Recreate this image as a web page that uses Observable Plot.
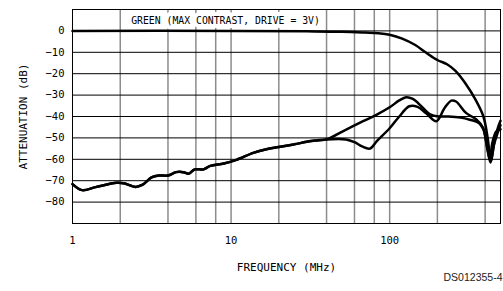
<!DOCTYPE html>
<html><head><meta charset="utf-8">
<script src="https://cdn.jsdelivr.net/npm/d3@7"></script>
<script src="https://cdn.jsdelivr.net/npm/@observablehq/plot@0.6"></script>
<style>body{margin:0;background:#fff} svg{display:block}</style>
</head><body><div id="chart"></div>
<script>
// Top (pass-band) curve
const topFreq = [1, 10, 30, 50, 70, 85, 100, 120, 145, 170, 200, 230, 260, 300, 350, 390, 415, 435, 455, 478, 500];
const topDb   = [0, 0, -0.2, -0.4, -0.8, -1.1, -1.8, -3.6, -6.6, -10.2, -13.6, -15.6, -18.7, -24.5, -32.5, -40, -50, -61, -53, -46, -42];

// Lower curve A
const aFreq = [1, 1.15, 1.4, 1.9, 2.1, 2.5, 2.75, 3.15, 3.5, 4, 4.5, 5, 5.4, 5.9, 6.7, 7.4, 9, 10.8, 13.8, 16.7, 20, 25, 32, 40, 51, 68, 83, 100, 115, 127, 140, 160, 180, 205, 235, 280, 320, 365, 390, 410, 428, 445, 470, 500];
const aDb   = [-71.6, -74.4, -73, -71, -71.2, -72.9, -72, -68.5, -67.6, -67.6, -66, -66, -66.7, -64.7, -64.7, -63.1, -62, -60.3, -57, -55.3, -54.3, -53, -51.5, -50.7, -46.8, -42.2, -39.1, -35.7, -32.5, -31, -31.8, -35.5, -39, -40, -40, -40.5, -41.5, -43, -46, -54, -60, -52, -47, -46];

// Lower curve B
const bFreq = [1, 1.15, 1.4, 1.9, 2.1, 2.5, 2.75, 3.15, 3.5, 4, 4.5, 5, 5.4, 5.9, 6.7, 7.4, 9, 10.8, 13.8, 16.7, 20, 25, 32, 40, 53, 60, 67, 75, 83, 100, 115, 133, 150, 170, 197, 222, 245, 262, 303, 352, 388, 412, 432, 455, 478, 500];
const bDb   = [-71.6, -74.4, -73, -71, -71.2, -72.9, -72, -68.5, -67.6, -67.6, -66, -66, -66.7, -64.7, -64.7, -63.1, -62, -60.3, -57, -55.3, -54.3, -53, -51.5, -50.7, -50.7, -52, -54, -55, -51.5, -45.5, -40, -35.2, -35.5, -38.5, -42.2, -36, -32.6, -33, -38.3, -41.4, -45.3, -54, -61.5, -53, -48, -44];

const xTicks = [1, 10, 100];
const xGrid = [2, 4, 6, 8, 10, 20, 40, 60, 80, 100, 200, 400];
const yTicks = [0, -10, -20, -30, -40, -50, -60, -70, -80];
const titleText = ["GREEN (MAX CONTRAST, DRIVE = 3V)"];
const xLabel = ["FREQUENCY (MHz)"];
const yLabel = ["ATTENUATION (dB)"];
const codeLabel = ["DS012355-4"];

const toRows = (fs, ds) => fs.map((f, i) => ({f, db: ds[i]}));
const mono = "DejaVu Sans Mono, monospace";

const chart = Plot.plot({
  width: 503,
  height: 291,
  marginLeft: 72,
  marginRight: 3,
  marginTop: 9,
  marginBottom: 68,
  style: {fontFamily: mono, fontSize: "10.5px", color: "#000", background: "#fff"},
  x: {type: "log", domain: [1, 500]},
  y: {domain: [-90, 10]},
  marks: [
    Plot.ruleX(xGrid, {stroke: "#8c8c8c", strokeWidth: 1.5}),
    Plot.ruleY(yTicks, {stroke: "#000", strokeWidth: 1}),
    Plot.text(titleText, {text: d => d, frameAnchor: "top", dx: -61, dy: 11, lineAnchor: "middle", fontFamily: mono, fontSize: 9.8, fill: "#000", stroke: "#fff", strokeWidth: 8}),
    Plot.line(toRows(aFreq, aDb), {x: "f", y: "db", curve: "catmull-rom", stroke: "#000", strokeWidth: 2.5}),
    Plot.line(toRows(bFreq, bDb), {x: "f", y: "db", curve: "catmull-rom", stroke: "#000", strokeWidth: 2.5}),
    Plot.line(toRows(topFreq, topDb), {x: "f", y: "db", curve: "catmull-rom", stroke: "#000", strokeWidth: 2.5}),
    Plot.frame({stroke: "#000", strokeWidth: 1}),
    Plot.axisX({ticks: xTicks, tickSize: 0, tickPadding: 13, tickFormat: d => String(d), label: null, fontSize: 10.5}),
    Plot.axisY({ticks: yTicks, tickSize: 0, tickPadding: 8, label: null, fontSize: 10.5}),
    Plot.text(xLabel, {text: d => d, frameAnchor: "bottom", dy: 44, lineAnchor: "middle", fontFamily: mono, fontSize: 11}),
    Plot.text(yLabel, {text: d => d, frameAnchor: "left", dx: -49, rotate: -90, textAnchor: "middle", lineAnchor: "middle", fontFamily: mono, fontSize: 11}),
    Plot.text(codeLabel, {text: d => d, frameAnchor: "bottom-right", dx: 2, dy: 54, textAnchor: "end", lineAnchor: "middle", fontFamily: "Liberation Sans, Arial, sans-serif", fontSize: 10.5, fill: "#222"})
  ]
});
document.getElementById("chart").appendChild(chart);
</script>
</body></html>
